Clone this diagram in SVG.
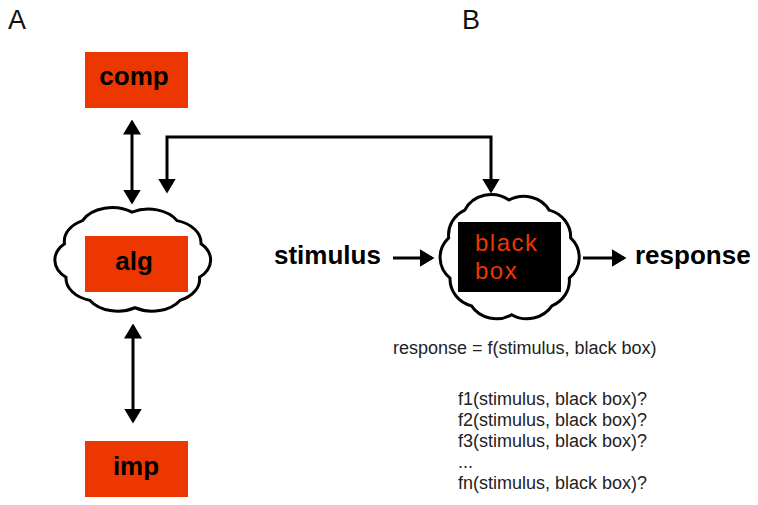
<svg xmlns="http://www.w3.org/2000/svg" width="758" height="505" viewBox="0 0 758 505">
  <style>
    .box { fill: #EC3800; }
    .lbl { font-family: "Liberation Sans", Arial, sans-serif; font-weight: bold; font-size: 26px; fill: #000; }
    .panel { font-family: "Liberation Sans", Arial, sans-serif; font-size: 27px; fill: #111; }
    .small { font-family: "Liberation Sans", Arial, sans-serif; font-size: 18px; fill: #222; }
    .bb { font-family: "Liberation Sans", Arial, sans-serif; font-size: 24px; letter-spacing: 1.5px; fill: #EC3800; }
    .cloud { fill: #fff; stroke: #000; stroke-width: 3; }
    .conn { fill: none; stroke: #000; stroke-width: 3; }
  </style>
  <defs>
    <marker id="ah" viewBox="0 0 15 18" refX="12.5" refY="9" markerWidth="15" markerHeight="18" markerUnits="userSpaceOnUse" orient="auto-start-reverse">
      <path d="M0,0 L15,9 L0,18 Z" fill="#000"/>
    </marker>
    <path id="cloudShape" vector-effect="non-scaling-stroke" d="M17,12 A22,22 0 0 1 50,4 A22,22 0 0 1 80,12 A22,22 0 0 1 96,34 A22,22 0 0 1 95,66 A22,22 0 0 1 82,88 A22,22 0 0 1 52,95 A22,22 0 0 1 22,88 A22,22 0 0 1 6,66 A22,22 0 0 1 5,34 A22,22 0 0 1 17,12 Z"/>
  </defs>

  <g id="panel-labels">
    <text class="panel" x="8" y="29">A</text>
    <text class="panel" x="462" y="29">B</text>
  </g>

  <g id="connectors">
    <path class="conn" d="M132,122 L132,202" marker-start="url(#ah)" marker-end="url(#ah)"/>
    <path class="conn" d="M133,326 L133,421" marker-start="url(#ah)" marker-end="url(#ah)"/>
    <path class="conn" d="M167,191 L167,137 L491,137 L491,191" marker-start="url(#ah)" marker-end="url(#ah)"/>
    <path class="conn" d="M393,258 L432,258" marker-end="url(#ah)"/>
    <path class="conn" d="M583,258 L624,258" marker-end="url(#ah)"/>
  </g>

  <g id="node-comp">
    <rect class="box" x="85" y="52" width="103" height="56"/>
    <text class="lbl" x="134" y="85" text-anchor="middle">comp</text>
  </g>

  <g id="node-alg">
    <use href="#cloudShape" class="cloud" transform="translate(57,208) scale(1.5,1.05)"/>
    <rect class="box" x="85" y="236" width="103" height="56"/>
    <text class="lbl" x="134" y="270" text-anchor="middle">alg</text>
  </g>

  <g id="node-imp">
    <rect class="box" x="85" y="441" width="103" height="56"/>
    <text class="lbl" x="136" y="475" text-anchor="middle">imp</text>
  </g>

  <g id="node-blackbox">
    <use href="#cloudShape" class="cloud" transform="translate(442,195) scale(1.34,1.26)"/>
    <rect x="458" y="222" width="103" height="70" fill="#000"/>
    <text class="bb" x="475" y="251">black</text>
    <text class="bb" x="475" y="279">box</text>
  </g>

  <g id="node-stimulus">
    <text class="lbl" x="274" y="264">stimulus</text>
  </g>

  <g id="node-response">
    <text class="lbl" x="635" y="264">response</text>
  </g>

  <g id="notes">
    <text class="small" x="393" y="354">response = f(stimulus, black box)</text>
    <text class="small" x="458" y="405">f1(stimulus, black box)?</text>
    <text class="small" x="458" y="426">f2(stimulus, black box)?</text>
    <text class="small" x="458" y="447">f3(stimulus, black box)?</text>
    <text class="small" x="458" y="468">...</text>
    <text class="small" x="458" y="489">fn(stimulus, black box)?</text>
  </g>
</svg>
